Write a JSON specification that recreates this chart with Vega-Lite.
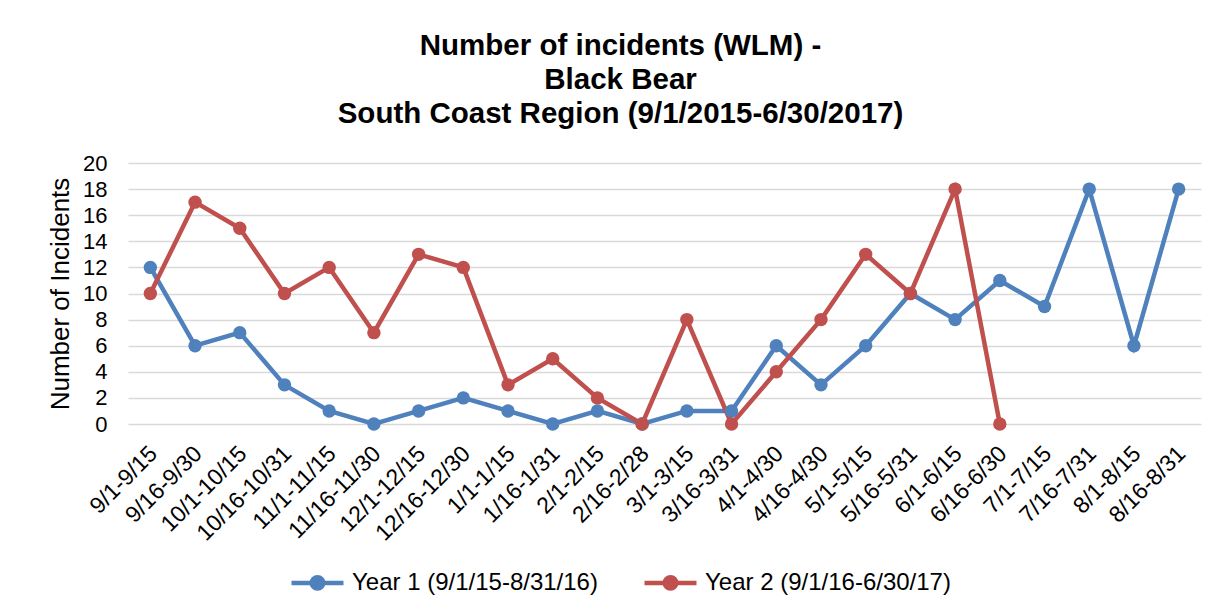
{
  "$schema": "https://vega.github.io/schema/vega-lite/v6.json",
  "width": 1073,
  "height": 261,
  "autosize": {"type": "none"},
  "padding": {"left": 128, "top": 163, "right": 19, "bottom": 191},
  "background": "white",
  "title": {
    "text": ["Number of incidents (WLM) -", "Black Bear", "South Coast Region (9/1/2015-6/30/2017)"],
    "font": "Liberation Sans",
    "fontSize": 29.5,
    "fontWeight": "bold",
    "lineHeight": 34,
    "color": "#000000",
    "anchor": "middle",
    "frame": "group",
    "baseline": "bottom",
    "offset": 32,
    "dx": -44,
    "dy": 38
  },
  "data": {
    "values": [
      {"period": "9/1-9/15", "series": "Year 1 (9/1/15-8/31/16)", "value": 12},
      {"period": "9/16-9/30", "series": "Year 1 (9/1/15-8/31/16)", "value": 6},
      {"period": "10/1-10/15", "series": "Year 1 (9/1/15-8/31/16)", "value": 7},
      {"period": "10/16-10/31", "series": "Year 1 (9/1/15-8/31/16)", "value": 3},
      {"period": "11/1-11/15", "series": "Year 1 (9/1/15-8/31/16)", "value": 1},
      {"period": "11/16-11/30", "series": "Year 1 (9/1/15-8/31/16)", "value": 0},
      {"period": "12/1-12/15", "series": "Year 1 (9/1/15-8/31/16)", "value": 1},
      {"period": "12/16-12/30", "series": "Year 1 (9/1/15-8/31/16)", "value": 2},
      {"period": "1/1-1/15", "series": "Year 1 (9/1/15-8/31/16)", "value": 1},
      {"period": "1/16-1/31", "series": "Year 1 (9/1/15-8/31/16)", "value": 0},
      {"period": "2/1-2/15", "series": "Year 1 (9/1/15-8/31/16)", "value": 1},
      {"period": "2/16-2/28", "series": "Year 1 (9/1/15-8/31/16)", "value": 0},
      {"period": "3/1-3/15", "series": "Year 1 (9/1/15-8/31/16)", "value": 1},
      {"period": "3/16-3/31", "series": "Year 1 (9/1/15-8/31/16)", "value": 1},
      {"period": "4/1-4/30", "series": "Year 1 (9/1/15-8/31/16)", "value": 6},
      {"period": "4/16-4/30", "series": "Year 1 (9/1/15-8/31/16)", "value": 3},
      {"period": "5/1-5/15", "series": "Year 1 (9/1/15-8/31/16)", "value": 6},
      {"period": "5/16-5/31", "series": "Year 1 (9/1/15-8/31/16)", "value": 10},
      {"period": "6/1-6/15", "series": "Year 1 (9/1/15-8/31/16)", "value": 8},
      {"period": "6/16-6/30", "series": "Year 1 (9/1/15-8/31/16)", "value": 11},
      {"period": "7/1-7/15", "series": "Year 1 (9/1/15-8/31/16)", "value": 9},
      {"period": "7/16-7/31", "series": "Year 1 (9/1/15-8/31/16)", "value": 18},
      {"period": "8/1-8/15", "series": "Year 1 (9/1/15-8/31/16)", "value": 6},
      {"period": "8/16-8/31", "series": "Year 1 (9/1/15-8/31/16)", "value": 18},
      {"period": "9/1-9/15", "series": "Year 2 (9/1/16-6/30/17)", "value": 10},
      {"period": "9/16-9/30", "series": "Year 2 (9/1/16-6/30/17)", "value": 17},
      {"period": "10/1-10/15", "series": "Year 2 (9/1/16-6/30/17)", "value": 15},
      {"period": "10/16-10/31", "series": "Year 2 (9/1/16-6/30/17)", "value": 10},
      {"period": "11/1-11/15", "series": "Year 2 (9/1/16-6/30/17)", "value": 12},
      {"period": "11/16-11/30", "series": "Year 2 (9/1/16-6/30/17)", "value": 7},
      {"period": "12/1-12/15", "series": "Year 2 (9/1/16-6/30/17)", "value": 13},
      {"period": "12/16-12/30", "series": "Year 2 (9/1/16-6/30/17)", "value": 12},
      {"period": "1/1-1/15", "series": "Year 2 (9/1/16-6/30/17)", "value": 3},
      {"period": "1/16-1/31", "series": "Year 2 (9/1/16-6/30/17)", "value": 5},
      {"period": "2/1-2/15", "series": "Year 2 (9/1/16-6/30/17)", "value": 2},
      {"period": "2/16-2/28", "series": "Year 2 (9/1/16-6/30/17)", "value": 0},
      {"period": "3/1-3/15", "series": "Year 2 (9/1/16-6/30/17)", "value": 8},
      {"period": "3/16-3/31", "series": "Year 2 (9/1/16-6/30/17)", "value": 0},
      {"period": "4/1-4/30", "series": "Year 2 (9/1/16-6/30/17)", "value": 4},
      {"period": "4/16-4/30", "series": "Year 2 (9/1/16-6/30/17)", "value": 8},
      {"period": "5/1-5/15", "series": "Year 2 (9/1/16-6/30/17)", "value": 13},
      {"period": "5/16-5/31", "series": "Year 2 (9/1/16-6/30/17)", "value": 10},
      {"period": "6/1-6/15", "series": "Year 2 (9/1/16-6/30/17)", "value": 18},
      {"period": "6/16-6/30", "series": "Year 2 (9/1/16-6/30/17)", "value": 0}
    ]
  },
  "encoding": {
    "x": {
      "field": "period",
      "type": "nominal",
      "sort": null,
      "scale": {"type": "point", "padding": 0.5},
      "axis": {
        "title": null,
        "labelAngle": -45,
        "labelFontSize": 23,
        "labelFont": "Liberation Sans",
        "labelColor": "#000000",
        "labelPadding": 18,
        "labelOffset": -5,
        "ticks": false,
        "domain": false,
        "grid": false,
        "labelOverlap": false
      }
    },
    "y": {
      "field": "value",
      "type": "quantitative",
      "scale": {"domain": [0, 20], "nice": false},
      "axis": {
        "title": "Number of Incidents",
        "titleFont": "Liberation Sans",
        "titleFontSize": 26,
        "titleFontWeight": "normal",
        "titleColor": "#000000",
        "titlePadding": 9,
        "values": [0, 2, 4, 6, 8, 10, 12, 14, 16, 18, 20],
        "labelFont": "Liberation Sans",
        "labelFontSize": 22,
        "labelColor": "#000000",
        "labelPadding": 21,
        "ticks": false,
        "domain": false,
        "grid": true,
        "gridColor": "#D9D9D9",
        "gridWidth": 1.5
      }
    },
    "color": {
      "field": "series",
      "type": "nominal",
      "scale": {"domain": ["Year 1 (9/1/15-8/31/16)", "Year 2 (9/1/16-6/30/17)"], "range": ["#4F81BD", "#C0504D"]},
      "legend": {
        "title": null,
        "orient": "none",
        "direction": "horizontal",
        "legendX": 161,
        "legendY": 391,
        "symbolType": "M-1,0L1,0M0.22,0A0.22,0.22,0,1,1,-0.22,0A0.22,0.22,0,1,1,0.22,0Z",
        "symbolSize": 2704,
        "symbolStrokeWidth": 4.5,
        "labelFont": "Liberation Sans",
        "labelFontSize": 24,
        "labelColor": "#000000",
        "labelOffset": 6,
        "columnPadding": 37,
        "labelLimit": 400,
        "encode": {
          "symbols": {
            "update": {
              "fill": {"scale": "color", "field": "value"},
              "stroke": {"scale": "color", "field": "value"},
              "fillOpacity": {"value": 1},
              "strokeOpacity": {"value": 1}
            }
          }
        }
      }
    }
  },
  "layer": [
    {"mark": {"type": "line", "strokeWidth": 4.5}},
    {"mark": {"type": "point", "filled": true, "size": 180, "opacity": 1}}
  ],
  "config": {
    "view": {"stroke": null},
    "font": "Liberation Sans"
  }
}
